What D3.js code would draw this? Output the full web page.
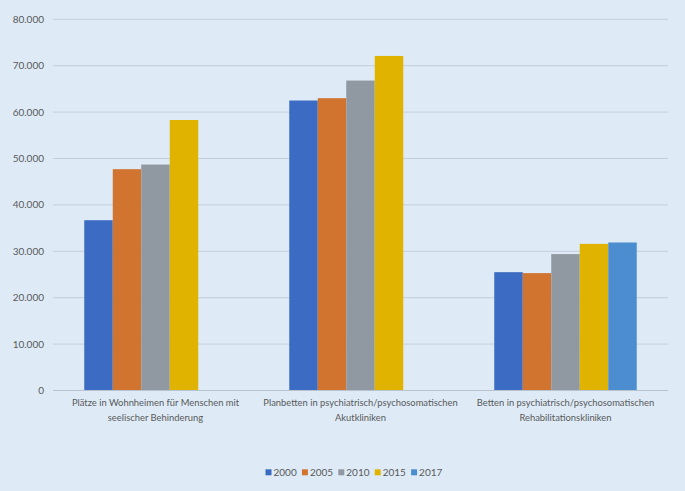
<!DOCTYPE html>
<html>
<head>
<meta charset="utf-8">
<script src="https://cdn.jsdelivr.net/npm/d3@7"></script>
<style>
  body { margin: 0; background: #deebf7; }
  svg { display: block; }
  text { font-family: Lato, "Open Sans", sans-serif; fill: #595959; }
</style>
</head>
<body>
<svg class="chart"></svg>
<script>
var width = 685,
    height = 491;

// data
var categories = [
  ["Plätze in Wohnheimen für Menschen mit", "seelischer Behinderung"],
  ["Planbetten in psychiatrisch/psychosomatischen", "Akutkliniken"],
  ["Betten in psychiatrisch/psychosomatischen", "Rehabilitationskliniken"]
];
var years = ["2000", "2005", "2010", "2015", "2017"];
var values2000 = [36700, 62500, 25500];
var values2005 = [47700, 63000, 25300];
var values2010 = [48700, 66800, 29400];
var values2015 = [58300, 72100, 31600];
var values2017 = [null, null, 31900];
var yTicks = [0, 10000, 20000, 30000, 40000, 50000, 60000, 70000, 80000];
var colors = ["#3b6bc2", "#d17430", "#9099a2", "#e0b300", "#4b8dce"];

var series = [values2000, values2005, values2010, values2015, values2017];

var padLeft = 53, padRight = 668, padTop = 19.3, padBottom = 390.5;

var chart = d3.select(".chart")
    .attr("width", width)
    .attr("height", height);

var x0 = d3.scaleBand()
    .domain(d3.range(categories.length))
    .range([padLeft, padRight]);

var gap = x0.bandwidth() * 0.1525; // space on each side of a group
var x1 = d3.scaleBand()
    .domain(years)
    .range([gap, x0.bandwidth() - gap]);

var y = d3.scaleLinear()
    .domain([0, 80000])
    .range([padBottom, padTop]);

var fmt = function(d) { return d3.format(",")(d).replace(/,/g, "."); };

// gridlines
chart.append("g")
  .selectAll("line")
  .data(yTicks.slice(1))
  .enter().append("line")
    .attr("x1", padLeft)
    .attr("x2", padRight)
    .attr("y1", function(d) { return y(d); })
    .attr("y2", function(d) { return y(d); })
    .attr("stroke", "#c3cedb")
    .attr("stroke-width", 1);

// y tick labels
chart.append("g")
  .selectAll("text")
  .data(yTicks)
  .enter().append("text")
    .attr("x", 44)
    .attr("y", function(d) { return y(d); })
    .attr("dy", ".35em")
    .attr("text-anchor", "end")
    .style("font-size", "10px")
    .text(function(d) { return fmt(d); });

// bars
var group = chart.selectAll("g.cat")
    .data(categories)
  .enter().append("g")
    .attr("class", "cat")
    .attr("transform", function(d, i) { return "translate(" + x0(i) + ",0)"; });

group.selectAll("rect")
    .data(function(d, i) {
      return years.map(function(yr, j) { return { year: yr, value: series[j][i], color: colors[j] }; })
        .filter(function(b) { return b.value != null; });
    })
  .enter().append("rect")
    .attr("x", function(d) { return x1(d.year); })
    .attr("width", x1.bandwidth())
    .attr("y", function(d) { return y(d.value); })
    .attr("height", function(d) { return y(0) - y(d.value); })
    .attr("fill", function(d) { return d.color; });

// x axis line
chart.append("line")
    .attr("x1", padLeft)
    .attr("x2", padRight)
    .attr("y1", padBottom)
    .attr("y2", padBottom)
    .attr("stroke", "#b8c3cf")
    .attr("stroke-width", 1.2);

// category labels
group.append("text")
    .attr("x", x0.bandwidth() / 2)
    .attr("y", 406)
    .attr("text-anchor", "middle")
    .style("font-size", "9.4px")
    .selectAll("tspan")
    .data(function(d) { return d; })
  .enter().append("tspan")
    .attr("x", x0.bandwidth() / 2)
    .attr("dy", function(d, i) { return i === 0 ? 0 : 14.5; })
    .text(function(d) { return d; });

// legend
var legend = chart.append("g")
    .attr("transform", "translate(265.5,472.3)");

var entry = legend.selectAll("g")
    .data(years)
  .enter().append("g")
    .attr("transform", function(d, i) { return "translate(" + (i * 36.4) + ",0)"; });

entry.append("rect")
    .attr("x", 0)
    .attr("y", -3)
    .attr("width", 6)
    .attr("height", 6)
    .attr("fill", function(d, i) { return colors[i]; });

entry.append("text")
    .attr("x", 8)
    .attr("dy", ".35em")
    .style("font-size", "10px")
    .text(function(d) { return d; });
</script>
</body>
</html>
